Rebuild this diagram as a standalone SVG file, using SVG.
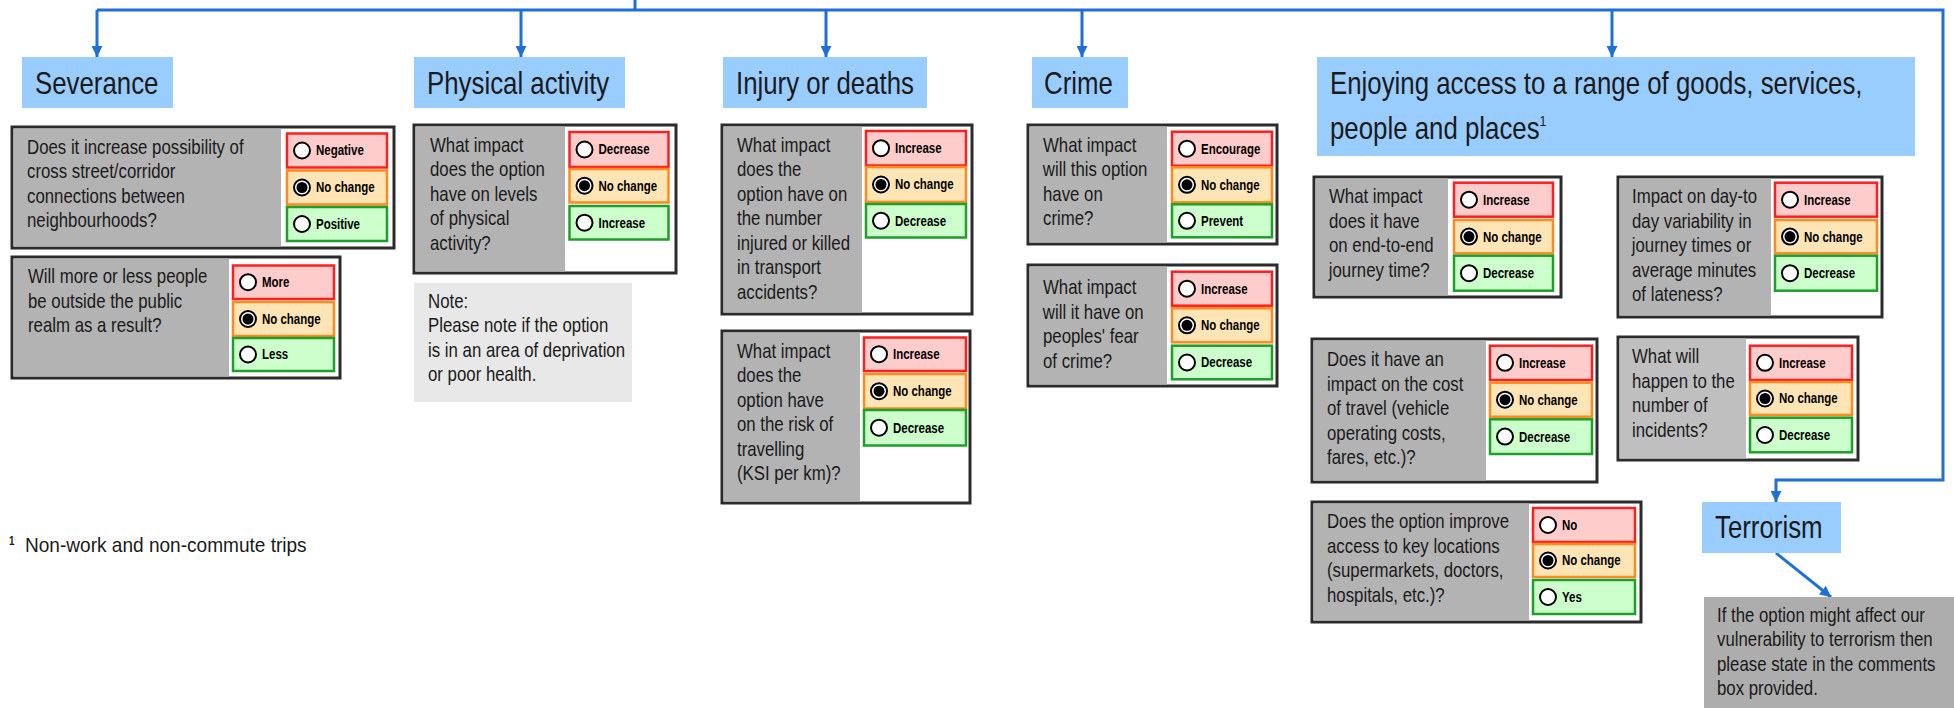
<svg xmlns="http://www.w3.org/2000/svg" width="1954" height="708" viewBox="0 0 1954 708">
  <style>
    text { font-family: "Liberation Sans", Arial, sans-serif; fill: #1a1a1a;
           transform-box: fill-box; transform-origin: 0% 50%; transform: scaleX(0.82); }
    .hdr { fill: #99ccff; }
    .ht { font-size: 31.5px; }
    .q { font-size: 20.5px; }
    .fn { font-size: 20.5px; transform: scaleX(0.93); }
    .frame { fill: #ffffff; stroke: #2b2b2b; stroke-width: 3; }
    .gray { fill: #b3b3b3; }
    .gray2 { fill: #bfbfbf; }
    .note { fill: #e8e8e8; }
    .tnote { fill: #adadad; }
    .neg { fill: #ffcccc; stroke: #ff1f1f; stroke-width: 2.5; }
    .mid { fill: #ffe5b5; stroke: #ff8a1f; stroke-width: 2.5; }
    .pos { fill: #ccffcc; stroke: #1f9f2a; stroke-width: 2.5; }
    .ol { font-size: 14px; font-weight: bold; fill: #000; }
    .rb { fill: #ffffff; stroke: #000; stroke-width: 2; }
    .dot { fill: #000; }
    .conn { fill: none; stroke: #1f6fd6; stroke-width: 3; }
  </style>
  <defs>
    <marker id="ah" viewBox="0 0 10 10" refX="10" refY="5" markerWidth="11" markerHeight="11" markerUnits="userSpaceOnUse" orient="auto">
      <path d="M0,0 L10,5 L0,10 z" fill="#1f6fd6"/>
    </marker>
  </defs>

  <!-- connectors -->
  <g id="connectors">
    <path class="conn" d="M635,0 V10"/>
    <path class="conn" d="M97,10 H1943 V480 H1776 V502" marker-end="url(#ah)"/>
    <path class="conn" d="M97,10 V57" marker-end="url(#ah)"/>
    <path class="conn" d="M521,10 V57" marker-end="url(#ah)"/>
    <path class="conn" d="M826,10 V57" marker-end="url(#ah)"/>
    <path class="conn" d="M1082,10 V57" marker-end="url(#ah)"/>
    <path class="conn" d="M1612,10 V57" marker-end="url(#ah)"/>
    <path class="conn" d="M1776,553 L1831,597" marker-end="url(#ah)" stroke-width="2.5"/>
  </g>

  <!-- category headers -->
  <g id="hdr-severance">
    <rect class="hdr" x="22" y="57" width="151" height="51"/>
    <text class="ht" x="35" y="94">Severance</text>
  </g>
  <g id="hdr-physical">
    <rect class="hdr" x="414" y="57" width="211" height="51"/>
    <text class="ht" x="427" y="94">Physical activity</text>
  </g>
  <g id="hdr-injury">
    <rect class="hdr" x="723" y="57" width="204" height="51"/>
    <text class="ht" x="736" y="94">Injury or deaths</text>
  </g>
  <g id="hdr-crime">
    <rect class="hdr" x="1032" y="57" width="96" height="51"/>
    <text class="ht" x="1044" y="94">Crime</text>
  </g>
  <g id="hdr-access">
    <rect class="hdr" x="1317" y="57" width="598" height="99"/>
    <text class="ht" x="1330" y="94">Enjoying access to a range of goods, services,</text>
    <text class="ht" x="1330" y="139">people and places<tspan font-size="15" dy="-13">1</tspan></text>
  </g>
  <g id="hdr-terrorism">
    <rect class="hdr" x="1702" y="502" width="139" height="51"/>
    <text class="ht" x="1715" y="538">Terrorism</text>
  </g>

  <!-- Severance: street connections -->
  <g id="q-severance-connections">
    <rect class="frame" x="12" y="127" width="382" height="121"/>
    <rect class="gray" x="13.5" y="128.5" width="267.5" height="118"/>
    <text class="q" x="27" y="154">Does it increase possibility of</text>
    <text class="q" x="27" y="178.5">cross street/corridor</text>
    <text class="q" x="27" y="203">connections between</text>
    <text class="q" x="27" y="227.5">neighbourhoods?</text>
    <rect class="neg" x="287" y="133.5" width="100" height="34"/>
    <circle class="rb" cx="302" cy="150.5" r="8"/>
    <text class="ol" x="316" y="155.5">Negative</text>
    <rect class="mid" x="287" y="170.5" width="100" height="34"/>
    <circle class="rb" cx="302" cy="187.5" r="8"/><circle class="dot" cx="302" cy="187.5" r="5.5"/>
    <text class="ol" x="316" y="192.5">No change</text>
    <rect class="pos" x="287" y="207" width="100" height="34"/>
    <circle class="rb" cx="302" cy="224" r="8"/>
    <text class="ol" x="316" y="229">Positive</text>
  </g>

  <!-- Severance: people outside -->
  <g id="q-severance-realm">
    <rect class="frame" x="12" y="257" width="328" height="121"/>
    <rect class="gray" x="13.5" y="258.5" width="215.5" height="118"/>
    <text class="q" x="28" y="283.5">Will more or less people</text>
    <text class="q" x="28" y="308">be outside the public</text>
    <text class="q" x="28" y="332.5">realm as a result?</text>
    <rect class="neg" x="233" y="265.5" width="101" height="33.5"/>
    <circle class="rb" cx="248" cy="282.2" r="8"/>
    <text class="ol" x="262" y="287.2">More</text>
    <rect class="mid" x="233" y="302" width="101" height="34"/>
    <circle class="rb" cx="248" cy="319" r="8"/><circle class="dot" cx="248" cy="319" r="5.5"/>
    <text class="ol" x="262" y="324">No change</text>
    <rect class="pos" x="233" y="338" width="101" height="33"/>
    <circle class="rb" cx="248" cy="354.5" r="8"/>
    <text class="ol" x="262" y="359.5">Less</text>
  </g>

  <!-- Physical activity -->
  <g id="q-physical">
    <rect class="frame" x="414" y="125" width="262" height="148"/>
    <rect class="gray" x="415.5" y="126.5" width="149.5" height="145"/>
    <text class="q" x="430" y="152">What impact</text>
    <text class="q" x="430" y="176.5">does the option</text>
    <text class="q" x="430" y="201">have on levels</text>
    <text class="q" x="430" y="225.5">of physical</text>
    <text class="q" x="430" y="250">activity?</text>
    <rect class="neg" x="569.5" y="132" width="99" height="35"/>
    <circle class="rb" cx="584.5" cy="149.5" r="8"/>
    <text class="ol" x="598.5" y="154.5">Decrease</text>
    <rect class="mid" x="569.5" y="169" width="99" height="33.5"/>
    <circle class="rb" cx="584.5" cy="185.7" r="8"/><circle class="dot" cx="584.5" cy="185.7" r="5.5"/>
    <text class="ol" x="598.5" y="190.7">No change</text>
    <rect class="pos" x="569.5" y="206" width="99" height="33.5"/>
    <circle class="rb" cx="584.5" cy="222.7" r="8"/>
    <text class="ol" x="598.5" y="227.7">Increase</text>
  </g>

  <g id="note-physical">
    <rect class="note" x="414" y="283" width="218" height="119"/>
    <text class="q" x="428" y="308">Note:</text>
    <text class="q" x="428" y="332.5">Please note if the option</text>
    <text class="q" x="428" y="357">is in an area of deprivation</text>
    <text class="q" x="428" y="381.5">or poor health.</text>
  </g>

  <!-- Injury or deaths -->
  <g id="q-injury-number">
    <rect class="frame" x="722" y="125" width="250" height="189"/>
    <rect class="gray" x="723.5" y="126.5" width="138.5" height="186"/>
    <text class="q" x="737" y="152">What impact</text>
    <text class="q" x="737" y="176.5">does the</text>
    <text class="q" x="737" y="201">option have on</text>
    <text class="q" x="737" y="225.5">the number</text>
    <text class="q" x="737" y="250">injured or killed</text>
    <text class="q" x="737" y="274.5">in transport</text>
    <text class="q" x="737" y="299">accidents?</text>
    <rect class="neg" x="866" y="131" width="100" height="34.5"/>
    <circle class="rb" cx="881" cy="148.2" r="8"/>
    <text class="ol" x="895" y="153.2">Increase</text>
    <rect class="mid" x="866" y="167" width="100" height="35"/>
    <circle class="rb" cx="881" cy="184.5" r="8"/><circle class="dot" cx="881" cy="184.5" r="5.5"/>
    <text class="ol" x="895" y="189.5">No change</text>
    <rect class="pos" x="866" y="204" width="100" height="33.5"/>
    <circle class="rb" cx="881" cy="220.7" r="8"/>
    <text class="ol" x="895" y="225.7">Decrease</text>
  </g>

  <g id="q-injury-risk">
    <rect class="frame" x="722" y="331" width="248" height="172"/>
    <rect class="gray" x="723.5" y="332.5" width="136.5" height="169"/>
    <text class="q" x="737" y="358">What impact</text>
    <text class="q" x="737" y="382.5">does the</text>
    <text class="q" x="737" y="407">option have</text>
    <text class="q" x="737" y="431.5">on the risk of</text>
    <text class="q" x="737" y="456">travelling</text>
    <text class="q" x="737" y="480.5">(KSI per km)?</text>
    <rect class="neg" x="864" y="337.5" width="102" height="33.5"/>
    <circle class="rb" cx="879" cy="354.2" r="8"/>
    <text class="ol" x="893" y="359.2">Increase</text>
    <rect class="mid" x="864" y="374" width="102" height="34.5"/>
    <circle class="rb" cx="879" cy="391.2" r="8"/><circle class="dot" cx="879" cy="391.2" r="5.5"/>
    <text class="ol" x="893" y="396.2">No change</text>
    <rect class="pos" x="864" y="410" width="102" height="35.5"/>
    <circle class="rb" cx="879" cy="427.7" r="8"/>
    <text class="ol" x="893" y="432.7">Decrease</text>
  </g>

  <!-- Crime -->
  <g id="q-crime-level">
    <rect class="frame" x="1028" y="125" width="249" height="119"/>
    <rect class="gray" x="1029.5" y="126.5" width="137.5" height="116"/>
    <text class="q" x="1043" y="152">What impact</text>
    <text class="q" x="1043" y="176.5">will this option</text>
    <text class="q" x="1043" y="201">have on</text>
    <text class="q" x="1043" y="225.5">crime?</text>
    <rect class="neg" x="1172" y="131.7" width="100" height="34"/>
    <circle class="rb" cx="1187" cy="148.7" r="8"/>
    <text class="ol" x="1201" y="153.7">Encourage</text>
    <rect class="mid" x="1172" y="167.3" width="100" height="35"/>
    <circle class="rb" cx="1187" cy="184.8" r="8"/><circle class="dot" cx="1187" cy="184.8" r="5.5"/>
    <text class="ol" x="1201" y="189.8">No change</text>
    <rect class="pos" x="1172" y="204.3" width="100" height="33"/>
    <circle class="rb" cx="1187" cy="220.8" r="8"/>
    <text class="ol" x="1201" y="225.8">Prevent</text>
  </g>

  <g id="q-crime-fear">
    <rect class="frame" x="1028" y="265" width="249" height="121"/>
    <rect class="gray" x="1029.5" y="266.5" width="137.5" height="118"/>
    <text class="q" x="1043" y="294.5">What impact</text>
    <text class="q" x="1043" y="319">will it have on</text>
    <text class="q" x="1043" y="343.5">peoples' fear</text>
    <text class="q" x="1043" y="368">of crime?</text>
    <rect class="neg" x="1172" y="271.7" width="100" height="34"/>
    <circle class="rb" cx="1187" cy="288.7" r="8"/>
    <text class="ol" x="1201" y="293.7">Increase</text>
    <rect class="mid" x="1172" y="308.3" width="100" height="34"/>
    <circle class="rb" cx="1187" cy="325.3" r="8"/><circle class="dot" cx="1187" cy="325.3" r="5.5"/>
    <text class="ol" x="1201" y="330.3">No change</text>
    <rect class="pos" x="1172" y="345.7" width="100" height="33.6"/>
    <circle class="rb" cx="1187" cy="362.5" r="8"/>
    <text class="ol" x="1201" y="367.5">Decrease</text>
  </g>

  <!-- Access to goods, services, people and places -->
  <g id="q-access-journey">
    <rect class="frame" x="1314" y="177" width="247" height="120"/>
    <rect class="gray" x="1315.5" y="178.5" width="132.5" height="117"/>
    <text class="q" x="1329" y="203.5">What impact</text>
    <text class="q" x="1329" y="228">does it have</text>
    <text class="q" x="1329" y="252.5">on end-to-end</text>
    <text class="q" x="1329" y="277">journey time?</text>
    <rect class="neg" x="1454" y="182.7" width="99" height="34"/>
    <circle class="rb" cx="1469" cy="199.7" r="8"/>
    <text class="ol" x="1483" y="204.7">Increase</text>
    <rect class="mid" x="1454" y="220" width="99" height="33.3"/>
    <circle class="rb" cx="1469" cy="236.6" r="8"/><circle class="dot" cx="1469" cy="236.6" r="5.5"/>
    <text class="ol" x="1483" y="241.6">No change</text>
    <rect class="pos" x="1454" y="255.7" width="99" height="35"/>
    <circle class="rb" cx="1469" cy="273.2" r="8"/>
    <text class="ol" x="1483" y="278.2">Decrease</text>
  </g>

  <g id="q-access-variability">
    <rect class="frame" x="1618" y="177" width="264" height="140"/>
    <rect class="gray" x="1619.5" y="178.5" width="151.5" height="137"/>
    <text class="q" x="1632" y="203.5">Impact on day-to</text>
    <text class="q" x="1632" y="228">day variability in</text>
    <text class="q" x="1632" y="252.5">journey times or</text>
    <text class="q" x="1632" y="277">average minutes</text>
    <text class="q" x="1632" y="301.5">of lateness?</text>
    <rect class="neg" x="1775" y="182.7" width="102" height="34"/>
    <circle class="rb" cx="1790" cy="199.7" r="8"/>
    <text class="ol" x="1804" y="204.7">Increase</text>
    <rect class="mid" x="1775" y="220" width="102" height="33.3"/>
    <circle class="rb" cx="1790" cy="236.6" r="8"/><circle class="dot" cx="1790" cy="236.6" r="5.5"/>
    <text class="ol" x="1804" y="241.6">No change</text>
    <rect class="pos" x="1775" y="255.7" width="102" height="35"/>
    <circle class="rb" cx="1790" cy="273.2" r="8"/>
    <text class="ol" x="1804" y="278.2">Decrease</text>
  </g>

  <g id="q-access-cost">
    <rect class="frame" x="1312" y="339" width="285" height="143"/>
    <rect class="gray" x="1313.5" y="340.5" width="172.5" height="140"/>
    <text class="q" x="1327" y="366.5">Does it have an</text>
    <text class="q" x="1327" y="391">impact on the cost</text>
    <text class="q" x="1327" y="415.5">of travel (vehicle</text>
    <text class="q" x="1327" y="440">operating costs,</text>
    <text class="q" x="1327" y="464.5">fares, etc.)?</text>
    <rect class="neg" x="1490" y="345.7" width="102" height="34.3"/>
    <circle class="rb" cx="1505" cy="362.8" r="8"/>
    <text class="ol" x="1519" y="367.8">Increase</text>
    <rect class="mid" x="1490" y="382.7" width="102" height="34"/>
    <circle class="rb" cx="1505" cy="399.7" r="8"/><circle class="dot" cx="1505" cy="399.7" r="5.5"/>
    <text class="ol" x="1519" y="404.7">No change</text>
    <rect class="pos" x="1490" y="419.3" width="102" height="34.7"/>
    <circle class="rb" cx="1505" cy="436.6" r="8"/>
    <text class="ol" x="1519" y="441.6">Decrease</text>
  </g>

  <g id="q-access-incidents">
    <rect class="frame" x="1618" y="337" width="240" height="123"/>
    <rect class="gray2" x="1619.5" y="338.5" width="126.5" height="120"/>
    <text class="q" x="1632" y="363.5">What will</text>
    <text class="q" x="1632" y="388">happen to the</text>
    <text class="q" x="1632" y="412.5">number of</text>
    <text class="q" x="1632" y="437">incidents?</text>
    <rect class="neg" x="1750" y="345.7" width="102" height="34.3"/>
    <circle class="rb" cx="1765" cy="362.8" r="8"/>
    <text class="ol" x="1779" y="367.8">Increase</text>
    <rect class="mid" x="1750" y="382" width="102" height="33"/>
    <circle class="rb" cx="1765" cy="398.5" r="8"/><circle class="dot" cx="1765" cy="398.5" r="5.5"/>
    <text class="ol" x="1779" y="403.5">No change</text>
    <rect class="pos" x="1750" y="417.7" width="102" height="34.6"/>
    <circle class="rb" cx="1765" cy="435" r="8"/>
    <text class="ol" x="1779" y="440">Decrease</text>
  </g>

  <g id="q-access-locations">
    <rect class="frame" x="1312" y="502" width="329" height="120"/>
    <rect class="gray" x="1313.5" y="503.5" width="215.5" height="117"/>
    <text class="q" x="1327" y="528.5">Does the option improve</text>
    <text class="q" x="1327" y="553">access to key locations</text>
    <text class="q" x="1327" y="577.5">(supermarkets, doctors,</text>
    <text class="q" x="1327" y="602">hospitals, etc.)?</text>
    <rect class="neg" x="1533" y="508" width="102" height="34"/>
    <circle class="rb" cx="1548" cy="525" r="8"/>
    <text class="ol" x="1562" y="530">No</text>
    <rect class="mid" x="1533" y="544" width="102" height="33"/>
    <circle class="rb" cx="1548" cy="560.5" r="8"/><circle class="dot" cx="1548" cy="560.5" r="5.5"/>
    <text class="ol" x="1562" y="565.5">No change</text>
    <rect class="pos" x="1533" y="580" width="102" height="34"/>
    <circle class="rb" cx="1548" cy="597" r="8"/>
    <text class="ol" x="1562" y="602">Yes</text>
  </g>

  <!-- Terrorism note -->
  <g id="note-terrorism">
    <rect class="tnote" x="1704" y="597" width="250" height="111"/>
    <text class="q" x="1717" y="622">If the option might affect our</text>
    <text class="q" x="1717" y="646.5">vulnerability to terrorism then</text>
    <text class="q" x="1717" y="671">please state in the comments</text>
    <text class="q" x="1717" y="695.5">box provided.</text>
  </g>

  <!-- footnote -->
  <g id="footnote">
    <text x="9" y="545" font-size="12" font-weight="bold">1</text>
    <text class="fn" x="25" y="552">Non-work and non-commute trips</text>
  </g>
</svg>
